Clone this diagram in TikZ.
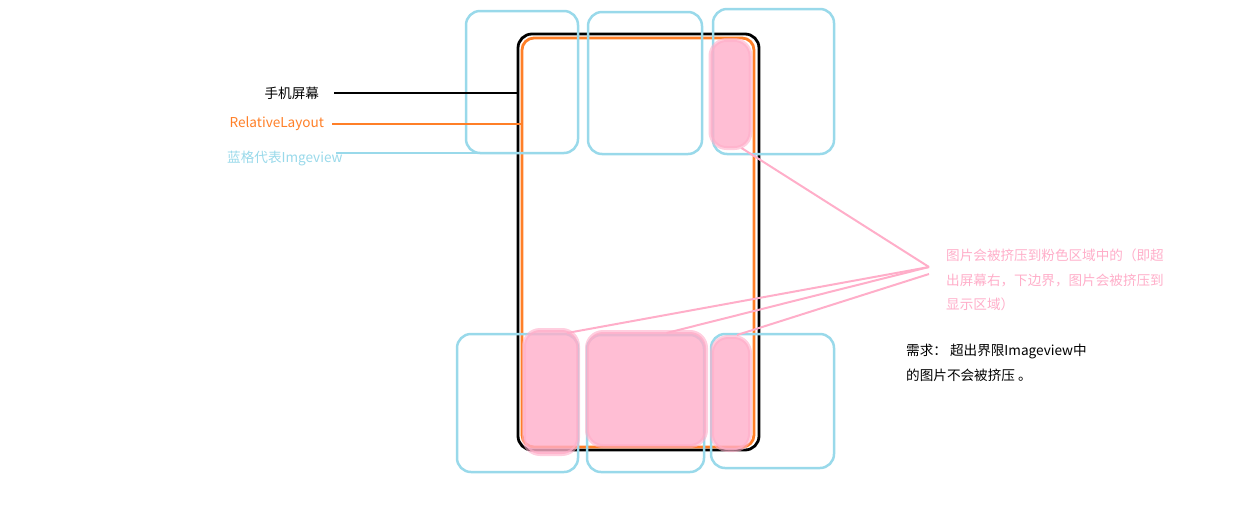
\documentclass[tikz,border=0pt]{standalone}
\usepackage{fontspec}
\setmainfont{Noto Sans CJK SC}
\definecolor{ivblue}{RGB}{153,217,234}
\definecolor{rlorange}{RGB}{255,127,39}
\definecolor{rose}{RGB}{255,174,201}
\begin{document}
\begin{tikzpicture}[x=1pt,y=-1pt]
\tikzset{screen/.style = {shape=rectangle,draw,line width=2.8pt,rounded corners=14pt,inner sep=0,outer sep=0}}
\tikzset{ivbox/.style = {shape=rectangle,draw=ivblue,line width=2.5pt,rounded corners=14pt,inner sep=0,outer sep=0}}
\tikzset{blob/.style = {shape=rectangle,fill=rose,fill opacity=0.8,draw=rose,draw opacity=0.6,line width=4pt,rounded corners=16pt,inner sep=0,outer sep=0}}
\tikzset{lbl/.style = {font=\fontsize{13.6}{24.5}\selectfont,inner sep=0,align=left}}
\tikzset{edge/.style = {line width=2pt,rose}}
\useasboundingbox (0,0) rectangle (1240,507);
% vertices
\node[screen, minimum width=241pt, minimum height=416pt] (phone) at (638.5,242) {};
\node[screen, draw=rlorange, minimum width=232pt, minimum height=409pt, rounded corners=12pt] (rl) at (638,242.5) {};
\node[ivbox, minimum width=112pt, minimum height=142pt] (ivtl) at (522,82) {};
\node[ivbox, minimum width=114pt, minimum height=142pt] (ivtm) at (645,83) {};
\node[ivbox, minimum width=121pt, minimum height=145pt] (ivtr) at (773.5,81.5) {};
\node[ivbox, minimum width=121pt, minimum height=138pt] (ivbl) at (517.5,403) {};
\node[ivbox, minimum width=117pt, minimum height=137pt] (ivbm) at (645.5,403.5) {};
\node[ivbox, minimum width=123pt, minimum height=134pt] (ivbr) at (772.5,401) {};
\node[blob, minimum width=40pt, minimum height=108pt] (pktr) at (730.5,94) {};
\node[blob, minimum width=54pt, minimum height=124pt] (pkbl) at (551,392) {};
\node[blob, minimum width=119pt, minimum height=114pt] (pkbm) at (646.5,389) {};
\node[blob, minimum width=38pt, minimum height=113pt] (pkbr) at (731,393.5) {};
\node[lbl, anchor=east, outer xsep=15pt] (lblscreen) at (334,93) {手机屏幕};
\node[lbl, anchor=east, outer xsep=8pt, text=rlorange] (lblrl) at (332,124) {RelativeLayout};
\node[lbl, anchor=west, text=ivblue] (lbliv) at (227,158) {蓝格代表Imgeview};
\coordinate (ivtip) at (336,153);
\node[lbl, anchor=north west, text=rose] (note) at (946,249) {图片会被挤压到粉色区域中的（即超\\出屏幕右，下边界，图片会被挤压到\\显示区域）};
\node[lbl, anchor=north west] (need) at (906,344) {需求： 超出界限Imageview中\\的图片不会被挤压 。};
\coordinate (pinktip) at (929,267);
\coordinate (pinktip2) at (929,274);
%edges
\draw[line width=2.8pt] (lblscreen.east) -- (lblscreen.east -| phone.west);
\draw[line width=2.8pt, rlorange] (lblrl.east) -- (lblrl.east -| rl.west);
\draw[line width=2.5pt, ivblue] (ivtip) -- (ivtip -| ivtl.south);
\draw[edge] (pinktip) -- ([xshift=11pt]pktr.south);
\draw[edge] (pinktip) -- ([xshift=16pt,yshift=-3pt]pkbl.north);
\draw[edge] (pinktip) -- ([xshift=20pt,yshift=-1pt]pkbm.north);
\draw[edge] (pinktip2) -- ([xshift=6pt,yshift=2pt]pkbr.north);
\end{tikzpicture}
\end{document}
